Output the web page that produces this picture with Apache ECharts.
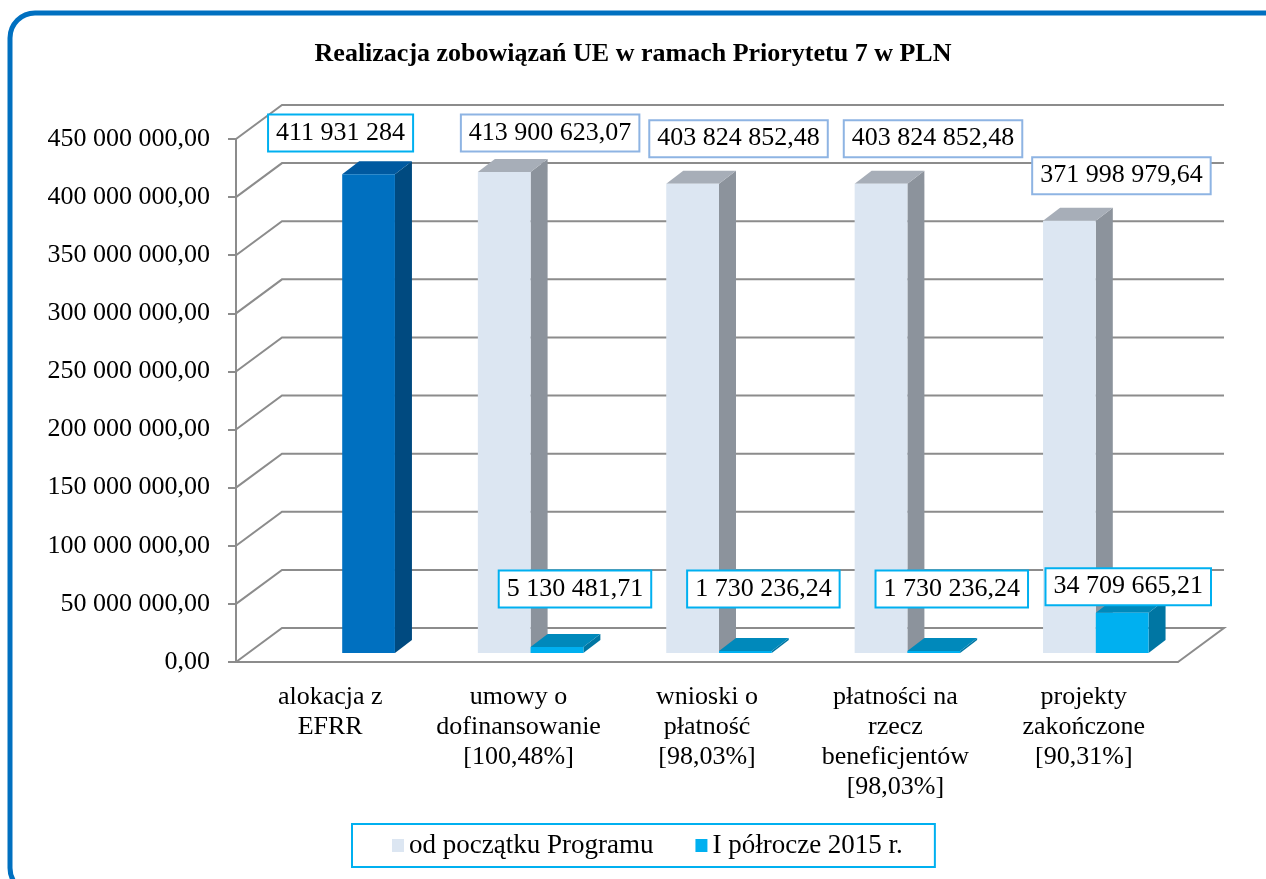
<!DOCTYPE html>
<html>
<head>
<meta charset="utf-8">
<script src="https://cdn.jsdelivr.net/npm/echarts@6/dist/echarts.min.js"></script>
<style>
html, body { margin: 0; padding: 0; background: #fff; }
#main { width: 1266px; height: 879px; }
</style>
</head>
<body>
<div id="main"></div>
<script>
// chart data
const categories = [
    'alokacja z\nEFRR',
    'umowy o\ndofinansowanie\n[100,48%]',
    'wnioski o\npłatność\n[98,03%]',
    'płatności na\nrzecz\nbeneficjentów\n[98,03%]',
    'projekty\nzakończone\n[90,31%]'
];
const seriesNames = ['od początku Programu', 'I półrocze 2015 r.'];
const programTotal = [null, 413900623.07, 403824852.48, 403824852.48, 371998979.64];
// first value is the EFRR allocation, drawn in the second slot in dark blue
const halfYear = [411931284, 5130481.71, 1730236.24, 1730236.24, 34709665.21];
const yTicks = [0, 50e6, 100e6, 150e6, 200e6, 250e6, 300e6, 350e6, 400e6, 450e6];

const FONT = '"Liberation Serif", "Times New Roman", serif';
const LABEL_FONT = '26px ' + FONT;
const GRID = '#8c8c8c';
// depth of the 3d box and of a bar
const DX = 46, DY = 34;
const SHIFT_X = 12, SHIFT_Y = 9;
const BDX = 17, BDY = 13;
const PAD_X = 7;
const ALLOC_INDEX = 0;
const values = [programTotal, halfYear];

const palettes = [
    { front: '#dce6f2', side: '#8c939c', top: '#a7aeb8', border: '#8eb4e3' },
    { front: '#00b0f0', side: '#0076a3', top: '#0089bb', border: '#00b0f0' }
];
const allocPalette = { front: '#0070c0', side: '#004a80', top: '#0059a0', border: '#00b0f0' };

const ctx = document.createElement('canvas').getContext('2d');
ctx.font = LABEL_FONT;

function fmt(v, dec) {
    const s = v.toFixed(dec).split('.');
    const i = s[0].replace(/\B(?=(\d{3})+(?!\d))/g, ' ');
    return s[1] ? i + ',' + s[1] : i;
}
function labelText(v) {
    return fmt(v, Number.isInteger(v) ? 0 : 2);
}

function barBox(slot, idx, val, api) {
    const base = api.coord([idx, 0]);
    const top = api.coord([idx, val]);
    const w = api.size([1, 0])[0] * 0.28;
    const left = base[0] + SHIFT_X + (slot === 0 ? -w : 0);
    return { left: left, right: left + w, w: w, yb: base[1] - SHIFT_Y, yt: top[1] - SHIFT_Y };
}

// label centre for one bar, before overlap handling
function rawLabel(slot, idx, api, cs) {
    const val = values[slot][idx];
    const b = barBox(slot, idx, val, api);
    const mid = b.left + b.w / 2;
    const half = ctx.measureText(labelText(val)).width / 2 + PAD_X;
    let x, y;
    if (val > 100e6) {
        x = mid + (slot === 0 ? 52 : -28);
        y = Math.max(133, b.yt - BDY - 32);
    } else {
        x = mid + 18;
        y = Math.min(b.yt - 26, b.yb - 64);
    }
    x = Math.min(x, cs.x + cs.width + DX - 14 - half);
    return { x: x, y: y, half: half };
}

function barRender(slot) {
    return function (params, api) {
        const idx = api.value(0);
        const b = barBox(slot, idx, api.value(1), api);
        const c = (slot === 1 && idx === ALLOC_INDEX) ? allocPalette : palettes[slot];
        return {
            type: 'group',
            children: [
                { type: 'polygon', shape: { points: [[b.right, b.yt], [b.right + BDX, b.yt - BDY], [b.right + BDX, b.yb - BDY], [b.right, b.yb]] }, style: { fill: c.side } },
                { type: 'polygon', shape: { points: [[b.left, b.yt], [b.left + BDX, b.yt - BDY], [b.right + BDX, b.yt - BDY], [b.right, b.yt]] }, style: { fill: c.top } },
                { type: 'rect', shape: { x: b.left, y: b.yt, width: b.w, height: b.yb - b.yt }, style: { fill: c.front } }
            ]
        };
    };
}

function labelRender(slot) {
    return function (params, api) {
        const idx = api.value(0);
        const cs = params.coordSys;
        const p = rawLabel(slot, idx, api, cs);
        // push left when the next label of the series sits on the same row
        const next = idx + 1;
        if (next < categories.length && values[slot][next] != null) {
            const q = rawLabel(slot, next, api, cs);
            if (Math.abs(q.y - p.y) < 36 && p.x + p.half > q.x - q.half - 18) {
                p.x = q.x - q.half - 18 - p.half;
            }
        }
        const c = (slot === 1 && idx === ALLOC_INDEX) ? allocPalette : palettes[slot];
        return {
            type: 'text',
            x: p.x, y: p.y,
            style: {
                text: labelText(api.value(1)),
                font: LABEL_FONT,
                fill: '#000',
                align: 'center',
                verticalAlign: 'middle',
                backgroundColor: '#fff',
                borderColor: c.border,
                borderWidth: 2,
                padding: [5, PAD_X, 4, PAD_X]
            }
        };
    };
}

function wallRender(params, api) {
    const cs = params.coordSys;
    const v = api.value(1);
    const y = api.coord([0, v])[1];
    const x0 = cs.x, x1 = cs.x + cs.width;
    const pts = [[x0, y], [x0 + DX, y - DY], [x1 + DX, y - DY]];
    if (v === 0) pts.push([x1, y]);
    return { type: 'polyline', shape: { points: pts }, style: { stroke: GRID, lineWidth: 2, fill: null } };
}

function toData(arr) {
    return arr.map((v, i) => v == null ? null : [i, v]).filter(Boolean);
}

const chart = echarts.init(document.getElementById('main'));
chart.setOption({
    animation: false,
    backgroundColor: '#fff',
    title: {
        text: 'Realizacja zobowiązań UE w ramach Priorytetu 7 w PLN',
        left: 'center',
        top: 36,
        textStyle: { fontFamily: FONT, fontWeight: 'bold', fontSize: 26, color: '#000' }
    },
    graphic: [{
        type: 'rect',
        shape: { x: 10, y: 13, width: 1280, height: 880, r: 25 },
        style: { fill: null, stroke: '#0070c0', lineWidth: 5 },
        z: 100
    }],
    legend: {
        data: seriesNames,
        left: 352,
        top: 824,
        padding: [8, 32, 8, 40],
        itemGap: 42,
        itemWidth: 12,
        itemHeight: 13,
        icon: 'rect',
        borderColor: '#00b0f0',
        borderWidth: 2,
        textStyle: { fontFamily: FONT, fontSize: 27, color: '#000' }
    },
    grid: { left: 236, right: 88, top: 139, bottom: 217 },
    xAxis: {
        type: 'category',
        data: categories,
        axisLine: { lineStyle: { color: GRID, width: 2 } },
        axisTick: { length: 8, lineStyle: { color: GRID, width: 2 } },
        axisLabel: { interval: 0, margin: 20, lineHeight: 30, fontFamily: FONT, fontSize: 26, color: '#000' },
        splitLine: { show: false }
    },
    yAxis: {
        type: 'value',
        min: 0,
        max: 450e6,
        interval: 50e6,
        axisLine: { show: true, lineStyle: { color: GRID, width: 2 } },
        axisTick: { show: true, length: 8, lineStyle: { color: GRID, width: 2 } },
        axisLabel: { margin: 26, fontFamily: FONT, fontSize: 26, color: '#000', formatter: v => fmt(v, 2) },
        splitLine: { show: false }
    },
    series: [
        { type: 'custom', silent: true, z: 1, data: yTicks.map(v => [0, v]), encode: { x: 0, y: 1 }, renderItem: wallRender },
        { type: 'custom', name: seriesNames[0], z: 2, itemStyle: { color: palettes[0].front }, data: toData(programTotal), encode: { x: 0, y: 1 }, renderItem: barRender(0) },
        { type: 'custom', name: seriesNames[1], z: 3, itemStyle: { color: palettes[1].front }, data: toData(halfYear), encode: { x: 0, y: 1 }, renderItem: barRender(1) },
        { type: 'custom', silent: true, z: 10, data: toData(programTotal), encode: { x: 0, y: 1 }, renderItem: labelRender(0) },
        { type: 'custom', silent: true, z: 10, data: toData(halfYear), encode: { x: 0, y: 1 }, renderItem: labelRender(1) }
    ]
});
</script>
</body>
</html>
